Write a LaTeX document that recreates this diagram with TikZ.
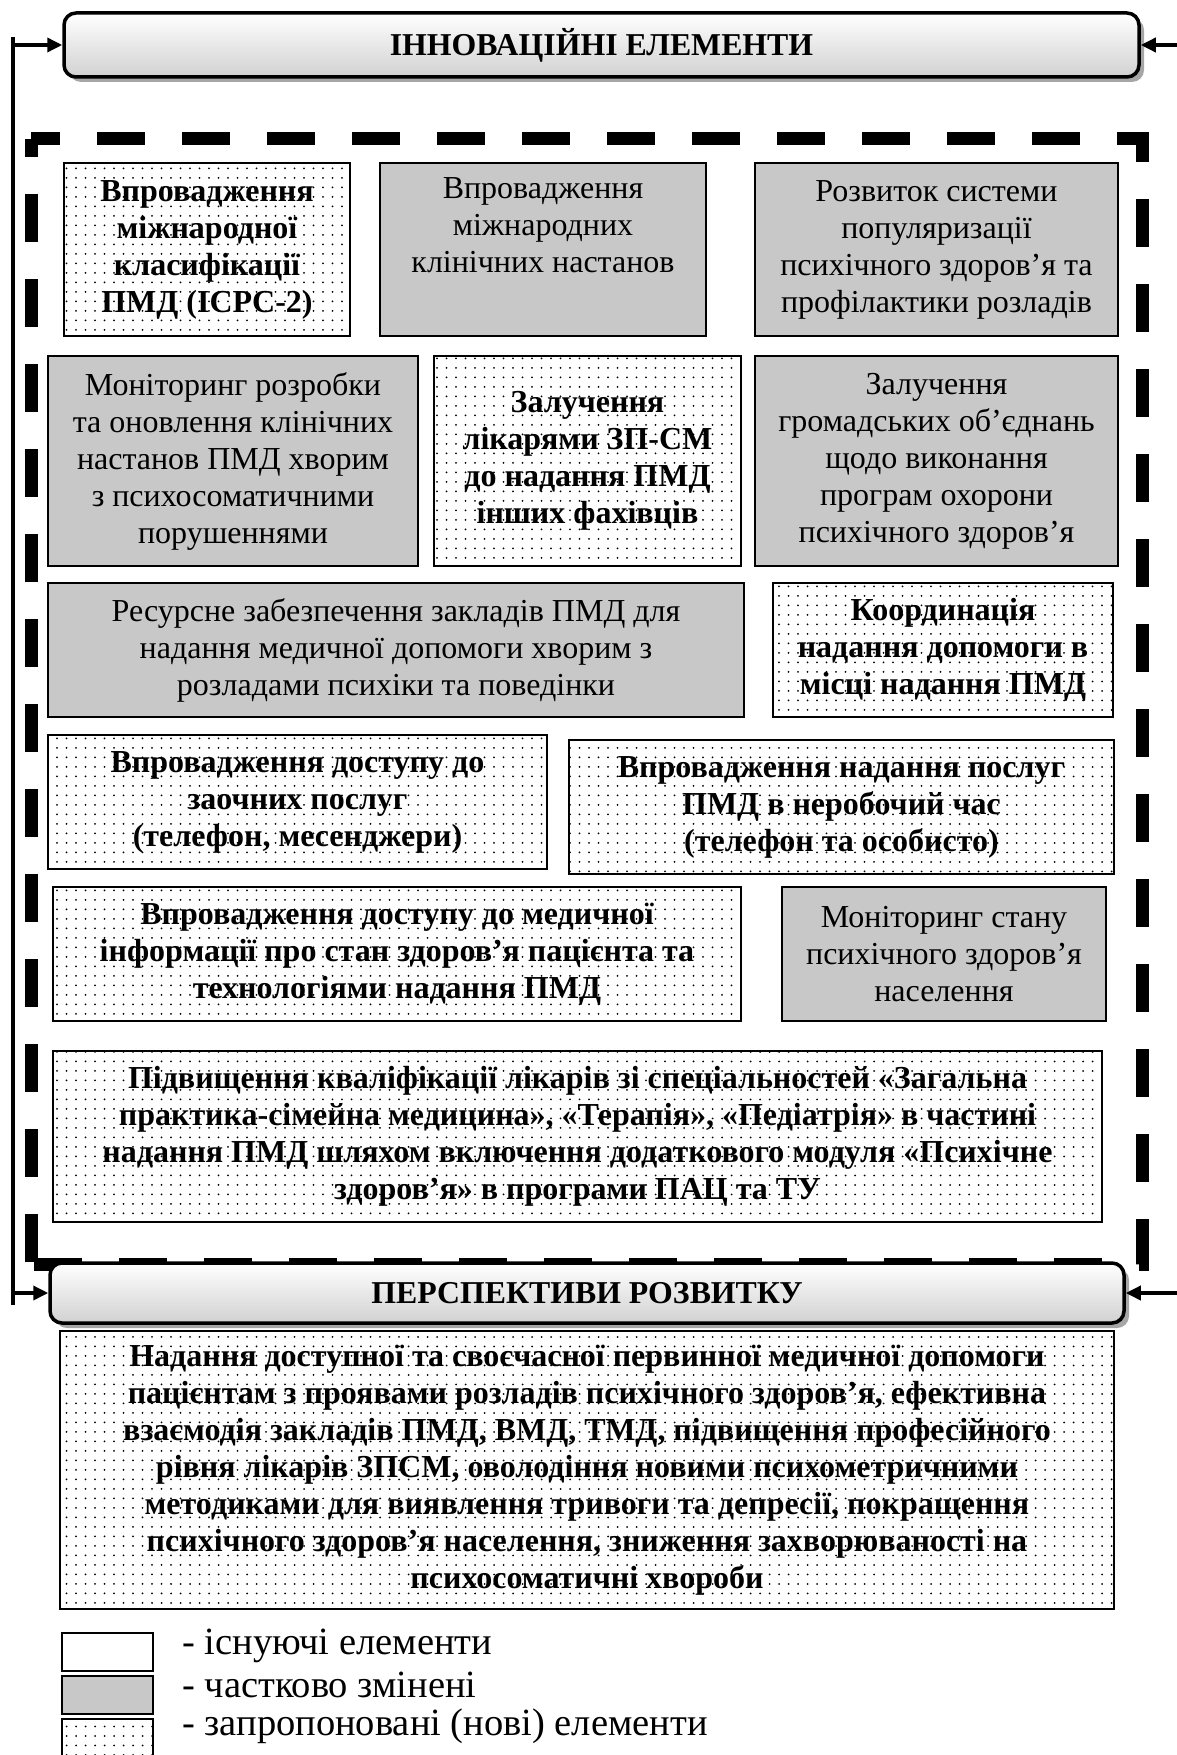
\documentclass[tikz,border=0pt]{standalone}
\usepackage{fontspec}
\setmainfont{Liberation Serif}
\usepackage{tikz}
\usetikzlibrary{arrows.meta, patterns.meta, shadows}
\definecolor{boxgray}{RGB}{200,200,200}
\tikzstyle{oldbox}=[draw, line width=1.8pt, fill=boxgray, align=center, inner sep=2pt, font=\fontsize{32}{37}\selectfont]
\tikzstyle{newbox}=[draw, line width=1.8pt, pattern={Dots[distance=9.5pt, radius=1pt]}, align=center, inner sep=2pt, font=\bfseries\fontsize{32}{37}\selectfont]
\tikzstyle{exbox}=[draw, line width=1.8pt, fill=white]
\tikzstyle{hdr}=[draw, line width=3.5pt, rounded corners=12pt, top color=white, bottom color=black!18, drop shadow={shadow xshift=5pt, shadow yshift=-5pt, fill=black!35, opacity=1}, font=\bfseries\fontsize{31.8}{36}\selectfont]
\tikzstyle{lgd}=[anchor=west, inner sep=0pt, font=\fontsize{38.5}{42}\selectfont]
\tikzset{>={Triangle[length=15pt, width=14pt]}}

\begin{document}
\begin{tikzpicture}[x=1pt, y=-1pt]
\useasboundingbox (0,0) rectangle (1177,1755);
\draw[line width=13pt, dash pattern=on 48pt off 37pt, dash phase=19pt] (31,139) -- (1142,139) -- (1142,1264) -- (31,1264);
\draw[line width=13pt, dash pattern=on 48pt off 37pt, dash phase=30pt] (31,139) -- (31,1264);
\node[hdr, minimum width=1075pt, minimum height=64pt] (H1) at (601.5,45) {ІННОВАЦІЙНІ ЕЛЕМЕНТИ};
\node[newbox, minimum width=286pt, minimum height=173pt] (A1) at (207,249.5) {Впровадження\\міжнародної\\класифікації\\ПМД (ICPC-2)};
\node[oldbox, minimum width=326pt, minimum height=173pt] (A2) at (543,249.5) {Впровадження\\міжнародних\\клінічних настанов\\\strut};
\node[oldbox, minimum width=363pt, minimum height=173pt] (A3) at (936.5,249.5) {Розвиток системи\\популяризації\\психічного здоров’я та\\профілактики розладів};
\node[oldbox, minimum width=370pt, minimum height=210pt] (B1) at (233,461) {Моніторинг розробки\\та оновлення клінічних\\настанов ПМД хворим\\з психосоматичними\\порушеннями};
\node[newbox, minimum width=307pt, minimum height=210pt] (B2) at (587.5,461) {Залучення\\лікарями ЗП-СМ\\до надання ПМД\\інших фахівців};
\node[oldbox, minimum width=363pt, minimum height=210pt] (B3) at (936.5,461) {Залучення\\громадських об’єднань\\щодо виконання\\програм охорони\\психічного здоров’я};
\node[oldbox, minimum width=696pt, minimum height=134pt] (C1) at (396,650) {Ресурсне забезпечення закладів ПМД для\\надання медичної допомоги хворим з\\розладами психіки та поведінки};
\node[newbox, minimum width=340pt, minimum height=134pt] (C2) at (943,650) {Координація\\надання допомоги в\\місці надання ПМД};
\node[newbox, minimum width=499pt, minimum height=134pt] (D1) at (297.5,802) {Впровадження доступу до\\заочних послуг\\(телефон, месенджери)};
\node[newbox, minimum width=545pt, minimum height=134pt] (D2) at (841.5,807) {Впровадження надання послуг\\ПМД в неробочий час\\(телефон та особисто)};
\node[newbox, minimum width=688pt, minimum height=134pt] (E1) at (397,954) {Впровадження доступу до медичної\\інформації про стан здоров’я пацієнта та\\технологіями надання ПМД};
\node[oldbox, minimum width=324pt, minimum height=134pt] (E2) at (944,954) {Моніторинг стану\\психічного здоров’я\\населення};
\node[newbox, minimum width=1049pt, minimum height=171pt] (F1) at (577.5,1136.5) {Підвищення кваліфікації лікарів зі спеціальностей «Загальна\\практика-сімейна медицина», «Терапія», «Педіатрія» в частині\\надання ПМД шляхом включення додаткового модуля «Психічне\\здоров’я» в програми ПАЦ та ТУ};
\node[hdr, minimum width=1074pt, minimum height=60pt] (H2) at (587,1293) {ПЕРСПЕКТИВИ РОЗВИТКУ};
\node[newbox, minimum width=1054pt, minimum height=278pt] (P1) at (587,1470) {Надання доступної та своєчасної первинної медичної допомоги\\пацієнтам з проявами розладів психічного здоров’я, ефективна\\взаємодія закладів ПМД, ВМД, ТМД, підвищення професійного\\рівня лікарів ЗПСМ, оволодіння новими психометричними\\методиками для виявлення тривоги та депресії, покращення\\психічного здоров’я населення, зниження захворюваності на\\психосоматичні хвороби};
\coordinate (ltop) at (13,37);
\coordinate (lbot) at (13,1305);
\coordinate (rt1) at (1177,45);
\coordinate (rt2) at (1177,1293);
\draw[line width=3.5pt] (ltop) -- (lbot);
\draw[line width=3.5pt, ->] (ltop |- H1.west) -- (H1.west);
\draw[line width=3.5pt, ->] (lbot |- H2.west) -- (H2.west);
\draw[line width=3.5pt, ->] (rt1) -- (H1.east);
\draw[line width=3.5pt, ->] (rt2) -- (H2.east);
\node[exbox, minimum width=91pt, minimum height=38pt] (L1) at (107.5,1652) {};
\node[oldbox, minimum width=91pt, minimum height=38pt] (L2) at (107.5,1695) {};
\node[newbox, minimum width=91pt, minimum height=38pt] (L3) at (107.5,1738) {};
\node[lgd] (T1) at (182,1646) {- існуючі елементи};
\node[lgd] (T2) at (182,1685) {- частково змінені};
\node[lgd] (T3) at (182,1726) {- запропоновані (нові) елементи};
\end{tikzpicture}
\end{document}
